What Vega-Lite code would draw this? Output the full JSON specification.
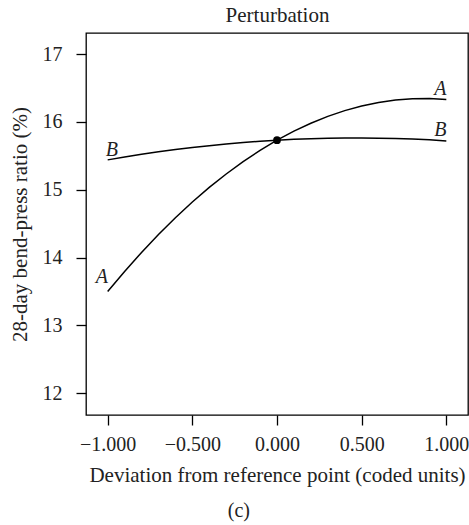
{
  "$schema": "https://vega.github.io/schema/vega-lite/v6.json",
  "autosize": "none",
  "padding": {"left": 86, "top": 33, "right": 1, "bottom": 110},
  "width": 382,
  "height": 382,
  "background": "white",
  "config": {
    "view": {"stroke": "black", "strokeWidth": 1.3},
    "font": "Liberation Serif",
    "axis": {"labelFont": "Liberation Serif", "titleFont": "Liberation Serif", "labelColor": "#222", "titleColor": "#222", "titleFontWeight": "normal", "grid": false, "domain": false, "tickColor": "black", "tickWidth": 1.3}
  },
  "title": {"text": "(c)", "orient": "bottom", "anchor": "middle", "frame": "bounds", "font": "Liberation Serif", "fontSize": 20, "fontWeight": "normal", "color": "#222", "offset": 16},
  "datasets": {
    "curves": [
      {"series": "A", "x": -1.0, "y": 13.50},
      {"series": "A", "x": -0.9, "y": 13.796},
      {"series": "A", "x": -0.8, "y": 14.076},
      {"series": "A", "x": -0.7, "y": 14.340},
      {"series": "A", "x": -0.6, "y": 14.588},
      {"series": "A", "x": -0.5, "y": 14.819},
      {"series": "A", "x": -0.4, "y": 15.034},
      {"series": "A", "x": -0.3, "y": 15.232},
      {"series": "A", "x": -0.2, "y": 15.414},
      {"series": "A", "x": -0.1, "y": 15.580},
      {"series": "A", "x": 0.0, "y": 15.73},
      {"series": "A", "x": 0.1, "y": 15.863},
      {"series": "A", "x": 0.2, "y": 15.980},
      {"series": "A", "x": 0.3, "y": 16.081},
      {"series": "A", "x": 0.4, "y": 16.166},
      {"series": "A", "x": 0.5, "y": 16.234},
      {"series": "A", "x": 0.6, "y": 16.286},
      {"series": "A", "x": 0.7, "y": 16.321},
      {"series": "A", "x": 0.8, "y": 16.340},
      {"series": "A", "x": 0.9, "y": 16.343},
      {"series": "A", "x": 1.0, "y": 16.33},
      {"series": "B", "x": -1.0, "y": 15.44},
      {"series": "B", "x": -0.9, "y": 15.483},
      {"series": "B", "x": -0.8, "y": 15.522},
      {"series": "B", "x": -0.7, "y": 15.559},
      {"series": "B", "x": -0.6, "y": 15.592},
      {"series": "B", "x": -0.5, "y": 15.623},
      {"series": "B", "x": -0.4, "y": 15.650},
      {"series": "B", "x": -0.3, "y": 15.675},
      {"series": "B", "x": -0.2, "y": 15.696},
      {"series": "B", "x": -0.1, "y": 15.715},
      {"series": "B", "x": 0.0, "y": 15.73},
      {"series": "B", "x": 0.1, "y": 15.743},
      {"series": "B", "x": 0.2, "y": 15.752},
      {"series": "B", "x": 0.3, "y": 15.759},
      {"series": "B", "x": 0.4, "y": 15.762},
      {"series": "B", "x": 0.5, "y": 15.763},
      {"series": "B", "x": 0.6, "y": 15.760},
      {"series": "B", "x": 0.7, "y": 15.755},
      {"series": "B", "x": 0.8, "y": 15.746},
      {"series": "B", "x": 0.9, "y": 15.735},
      {"series": "B", "x": 1.0, "y": 15.72}
    ],
    "center": [{"x": 0, "y": 15.73}],
    "labels": [
      {"label": "A", "x": 0.965, "y": 16.49},
      {"label": "B", "x": 0.965, "y": 15.88},
      {"label": "B", "x": -0.975, "y": 15.59},
      {"label": "A", "x": -1.034, "y": 13.72}
    ]
  },
  "resolve": {"axis": {"x": "independent", "y": "independent"}},
  "layer": [
    {
      "data": {"name": "curves"},
      "mark": {"type": "line", "color": "black", "strokeWidth": 1.5},
      "encoding": {
        "x": {"field": "x", "type": "quantitative", "scale": {"domain": [-1.128, 1.128], "nice": false, "zero": false},
          "axis": {"orient": "bottom", "values": [-1, -0.5, 0, 0.5, 1], "format": ".3f", "tickSize": 10, "labelFont": "Liberation Serif", "labelFontSize": 20, "labelPadding": 9, "title": "Deviation from reference point (coded units)", "titleFont": "Liberation Serif", "titleFontSize": 21, "titlePadding": 10}},
        "y": {"field": "y", "type": "quantitative", "scale": {"domain": [11.68, 17.31], "nice": false, "zero": false},
          "axis": {"orient": "left", "values": [12, 13, 14, 15, 16, 17], "format": "d", "tickSize": 10, "labelFont": "Liberation Serif", "labelFontSize": 20, "labelPadding": 14, "title": "28-day bend-press ratio (%)", "titleFont": "Liberation Serif", "titleFontSize": 21, "titlePadding": 12}},
        "detail": {"field": "series"}
      }
    },
    {
      "data": {"name": "center"},
      "mark": {"type": "point", "filled": true, "color": "black", "opacity": 1, "size": 60},
      "encoding": {
        "x": {"field": "x", "type": "quantitative", "axis": {"orient": "top", "ticks": false, "labels": false, "title": "Perturbation", "titleFont": "Liberation Serif", "titleFontSize": 21, "titlePadding": 8}},
        "y": {"field": "y", "type": "quantitative", "axis": null}
      }
    },
    {
      "data": {"name": "labels"},
      "mark": {"type": "text", "font": "Liberation Serif", "fontStyle": "italic", "fontSize": 20, "color": "#222", "align": "center", "baseline": "middle"},
      "encoding": {
        "x": {"field": "x", "type": "quantitative", "axis": null},
        "y": {"field": "y", "type": "quantitative", "axis": null},
        "text": {"field": "label"}
      }
    }
  ]
}
